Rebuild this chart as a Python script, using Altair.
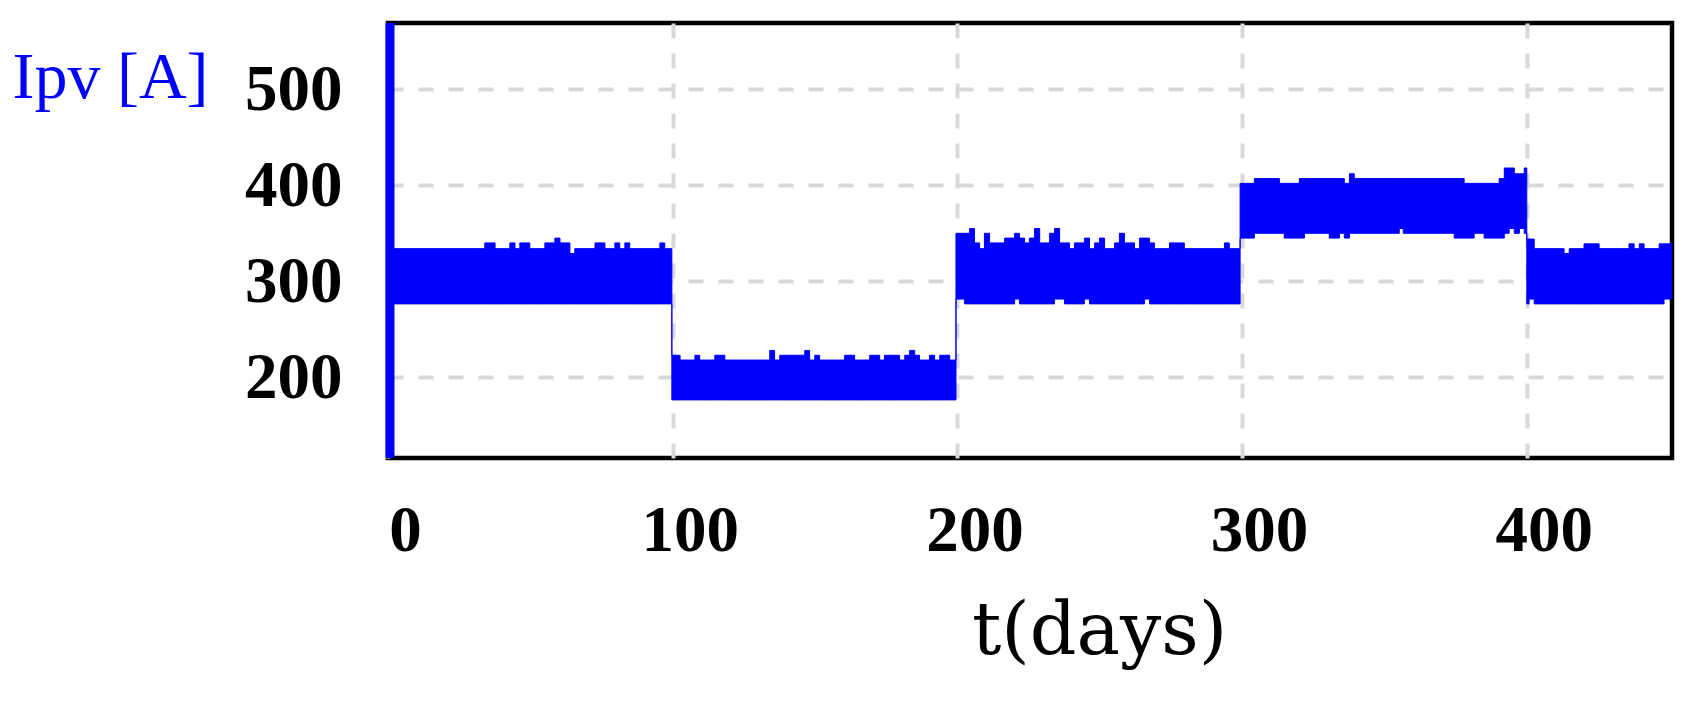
import altair as alt
import pandas as pd
from bisect import bisect_right

# Upper envelope of the PV current band (step changes): time (days) and value (A)
UPPER_T = [0, 34.0, 37.6, 42.8, 44.6, 46.3, 49.8, 55.1, 58.6, 60.4, 63.9, 65.6, 72.7, 76.2, 79.7, 81.4, 83.2, 84.9, 95.5, 97.2,
           99.7, 102.6, 107.8, 109.5, 114.8, 118.3, 134.1, 135.8, 137.6, 146.4, 148.1, 149.9, 151.6, 160.4, 163.9, 169.2,
           172.7, 174.4, 179.7, 181.5, 183.2, 185.0, 186.7, 190.2, 192.0, 193.8, 197.3,
           199.5, 204.3, 206.0, 207.8, 209.5, 211.3, 216.6, 220.1, 221.8, 223.6, 225.3, 227.1, 228.9, 232.4, 234.1, 235.9,
           239.4, 241.1, 244.6, 246.4, 248.2, 249.9, 251.7, 255.2, 256.9, 258.7, 262.2, 264.0, 267.5, 269.2, 274.5, 279.7,
           293.8, 295.5,
           299.3, 304.3, 313.1, 320.1, 335.9, 337.7, 339.4, 378.0, 390.3, 392.1, 395.6, 399.1,
           400.0, 402.6, 413.1, 414.9, 420.1, 425.4, 435.9, 437.7, 439.5, 441.2, 446.5]
UPPER_V = [334, 340, 334, 340, 334, 340, 334, 340, 345, 340, 329, 334, 340, 334, 340, 334, 340, 334, 340, 334,
           223, 218, 223, 218, 223, 218, 228, 218, 223, 228, 218, 223, 218, 223, 218, 223,
           218, 223, 218, 223, 228, 223, 218, 223, 218, 223, 218,
           350, 355, 340, 334, 350, 340, 345, 350, 345, 340, 345, 355, 340, 350, 355, 340,
           334, 340, 345, 334, 340, 345, 334, 340, 350, 340, 334, 345, 340, 334, 340, 334,
           340, 334,
           402, 407, 402, 407, 402, 412, 407, 402, 407, 418, 412, 418,
           344, 334, 329, 334, 339, 334, 339, 334, 339, 334, 339]

# Lower envelope of the band
LOWER_T = [0, 99.7, 199.5, 202.5, 220.1, 221.8, 234.1, 237.6, 244.6, 246.4, 265.7, 267.5,
           299.3, 304.3, 314.8, 321.9, 330.6, 334.2, 335.9, 337.7, 355.2, 356.6, 374.5, 381.5, 385.0, 392.1,
           393.8, 395.6, 397.4, 399.1,
           400.0, 400.8, 402.6, 448.2]
LOWER_V = [276.5, 176.5, 281.5, 276.5, 281.5, 276.5, 281.5, 276.5, 281.5, 276.5, 281.5, 276.5,
           345, 350, 345, 350, 345, 350, 345, 350, 355, 350, 345, 350, 345, 350,
           355, 350, 355, 350,
           276.5, 281.5, 276.5, 281.5]

T_END = 451
# start-up transient at t = 0 (A), spanning the whole visible current range
TRANSIENT_T = [0.7]
TRANSIENT_LO = [116]
TRANSIENT_HI = [569]

X_TICKS = [0, 100, 200, 300, 400]
Y_TICKS = [200, 300, 400, 500]
X_DOMAIN = [0, 451]
Y_DOMAIN = [116, 569]


def step_value(ts, vs, t):
    i = bisect_right(ts, t) - 1
    return vs[max(i, 0)]


all_t = sorted(set(UPPER_T + LOWER_T + [T_END]))
band = pd.DataFrame({
    "t": all_t,
    "upper": [step_value(UPPER_T, UPPER_V, t) for t in all_t],
    "lower": [step_value(LOWER_T, LOWER_V, t) for t in all_t],
})
trans = pd.DataFrame({"t": TRANSIENT_T, "lo": TRANSIENT_LO, "hi": TRANSIENT_HI})

BLUE = "#0000ff"
GRID = "#d9d9d9"

x_enc = alt.X(
    "t:Q",
    scale=alt.Scale(domain=X_DOMAIN, nice=False, zero=False),
    axis=alt.Axis(
        values=X_TICKS, grid=True, gridColor=GRID, gridDash=[15, 15], gridWidth=4,
        ticks=False, tickSize=0, domain=False,
        labelFont="Liberation Serif", labelFontWeight="bold", labelFontSize=65, labelColor="black",
        labelOffset=17, labelBaseline="middle", labelPadding=72, labelFlush=False, labelOverlap=False,
        labelBound=False,
        title="t(days)", titleFont="DejaVu Serif", titleFontSize=73, titleFontWeight="normal",
        titleColor="black", titleX=711, titleY=173, titleAlign="center", titleBaseline="middle",
    ),
)

y_axis = alt.Axis(
    values=Y_TICKS, grid=True, gridColor=GRID, gridDash=[15, 15], gridWidth=4,
    ticks=False, tickSize=0, domain=False,
    labelFont="Liberation Serif", labelFontWeight="bold", labelFontSize=65, labelColor="black",
    labelPadding=46, labelBaseline="middle", labelFlush=False, labelOverlap=False,
    title="Ipv [A]", titleFont="Liberation Serif", titleFontSize=66, titleFontWeight="normal",
    titleColor=BLUE, titleAngle=0, titleAlign="center", titleBaseline="alphabetic",
    titleX=-278, titleY=74,
)
y_scale = alt.Scale(domain=Y_DOMAIN, nice=False, zero=False)

area = alt.Chart(band).mark_area(
    interpolate="step-after", color=BLUE, opacity=1, stroke=BLUE, strokeWidth=1, clip=True
).encode(
    x=x_enc,
    y=alt.Y("upper:Q", scale=y_scale, axis=y_axis),
    y2="lower:Q",
)

rule = alt.Chart(trans).mark_rule(color=BLUE, strokeWidth=9).encode(
    x="t:Q",
    y="lo:Q",
    y2="hi:Q",
)

chart = (
    alt.layer(area, rule)
    .properties(
        width=1284,
        height=435,
        padding={"left": 380, "top": 15, "right": 20, "bottom": 220},
        autosize=alt.AutoSizeParams(type="none"),
        background="white",
    )
    .configure_view(stroke="black", strokeWidth=4.5)
)

chart.save("out.html", embed_options={"renderer": "svg", "actions": False})
